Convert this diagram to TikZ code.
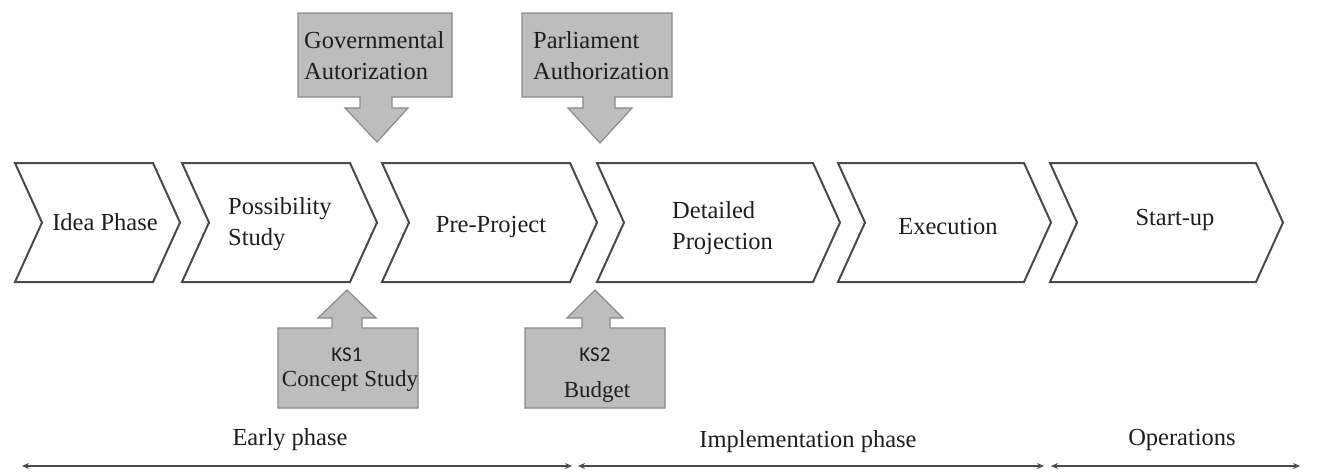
\documentclass[tikz,border=0pt]{standalone}
\usepackage{fontspec}
\setmainfont{Liberation Serif}
\newfontfamily\ksfont{Carlito}
\usetikzlibrary{arrows.meta}
\definecolor{chevline}{HTML}{4A4A4A}
\definecolor{blockfill}{HTML}{BDBDBD}
\definecolor{blockline}{HTML}{8A8A8A}
\definecolor{txt}{HTML}{1E1E1E}
\tikzset{
  chevron/.style={draw=chevline, line width=2pt, fill=white, line join=miter},
  block/.style={draw=blockline, line width=1.2pt, fill=blockfill, line join=miter},
  lbl/.style={text=txt, font=\fontsize{24.5}{31}\selectfont, inner sep=0pt},
  lbll/.style={lbl, align=left},
  lblc/.style={lbl, align=center},
  span/.style={draw=chevline, line width=1.2pt, {Stealth[length=7pt,width=6pt]}-{Stealth[length=7pt,width=6pt]}},
}
\begin{document}
\begin{tikzpicture}[x=1pt,y=-1pt]
\useasboundingbox[fill=white] (0,0) rectangle (1317,472);

% process chevrons: left edge, right edge (tip depth 27)
\foreach \L/\R in {15/153, 182/350, 382/570, 597/813, 838/1024, 1050/1256}{
  \draw[chevron] (\L,163) -- (\R,163) -- (\R+27,222.5) -- (\R,282) -- (\L,282) -- (\L+27,222.5) -- cycle;
}
\node[lblc] (idea) at (105,222) {Idea Phase};
\node[lbll, anchor=west] (poss) at (228,224) {Possibility\\Study};
\node[lblc] (pre) at (491,227) {Pre-Project};
\node[lbll, anchor=west] (det) at (672,228) {Detailed\\Projection};
\node[lblc] (exec) at (948,227) {Execution};
\node[lblc] (start) at (1175,220) {Start-up};

% authorization blocks with downward arrows
\draw[block] (298,13) -- (452,13) -- (452,97) -- (392,97) -- (392,108) -- (408,108)
  -- (377,142) -- (345,108) -- (360,108) -- (360,97) -- (298,97) -- cycle;
\draw[block] (522,13) -- (672,13) -- (672,97) -- (615,97) -- (615,108) -- (632,108)
  -- (600,143) -- (568,108) -- (583,108) -- (583,97) -- (522,97) -- cycle;
\node[lbll, anchor=west] (gov) at (304,56) {Governmental\\Autorization};
\node[lbll, anchor=west] (parl) at (533,56) {Parliament\\Authorization};

% decision gates with upward arrows
\draw[block] (278,328) -- (332,328) -- (332,318) -- (318,318) -- (347,290) -- (376,318)
  -- (362,318) -- (362,328) -- (418,328) -- (418,408) -- (278,408) -- cycle;
\draw[block] (525,328) -- (582,328) -- (582,318) -- (567,318) -- (595,290) -- (623,318)
  -- (610,318) -- (610,328) -- (665,328) -- (665,408) -- (525,408) -- cycle;
\node[lbl, font=\ksfont\fontsize{21}{24}\selectfont] (ks1) at (347,355) {KS1};
\node[lbl, font=\fontsize{23}{26}\selectfont] (ks1t) at (350,381) {Concept Study};
\node[lbl, font=\ksfont\fontsize{21}{24}\selectfont] (ks2) at (595,355) {KS2};
\node[lbl, font=\fontsize{23}{26}\selectfont] (ks2t) at (597,392) {Budget};

% project phases along the time axis
\coordinate (a0) at (22,466);
\coordinate (a1) at (572,466);
\coordinate (b0) at (578,466);
\coordinate (b1) at (1044,466);
\coordinate (c0) at (1051,466);
\coordinate (c1) at (1300,466);
\draw[span] (a0) -- (a1);
\draw[span] (b0) -- (b1);
\draw[span] (c0) -- (c1);
\node[lblc] (early) at (290,440) {Early phase};
\node[lblc] (impl) at (808,442) {Implementation phase};
\node[lblc] (ops) at (1182,440) {Operations};
\end{tikzpicture}
\end{document}
